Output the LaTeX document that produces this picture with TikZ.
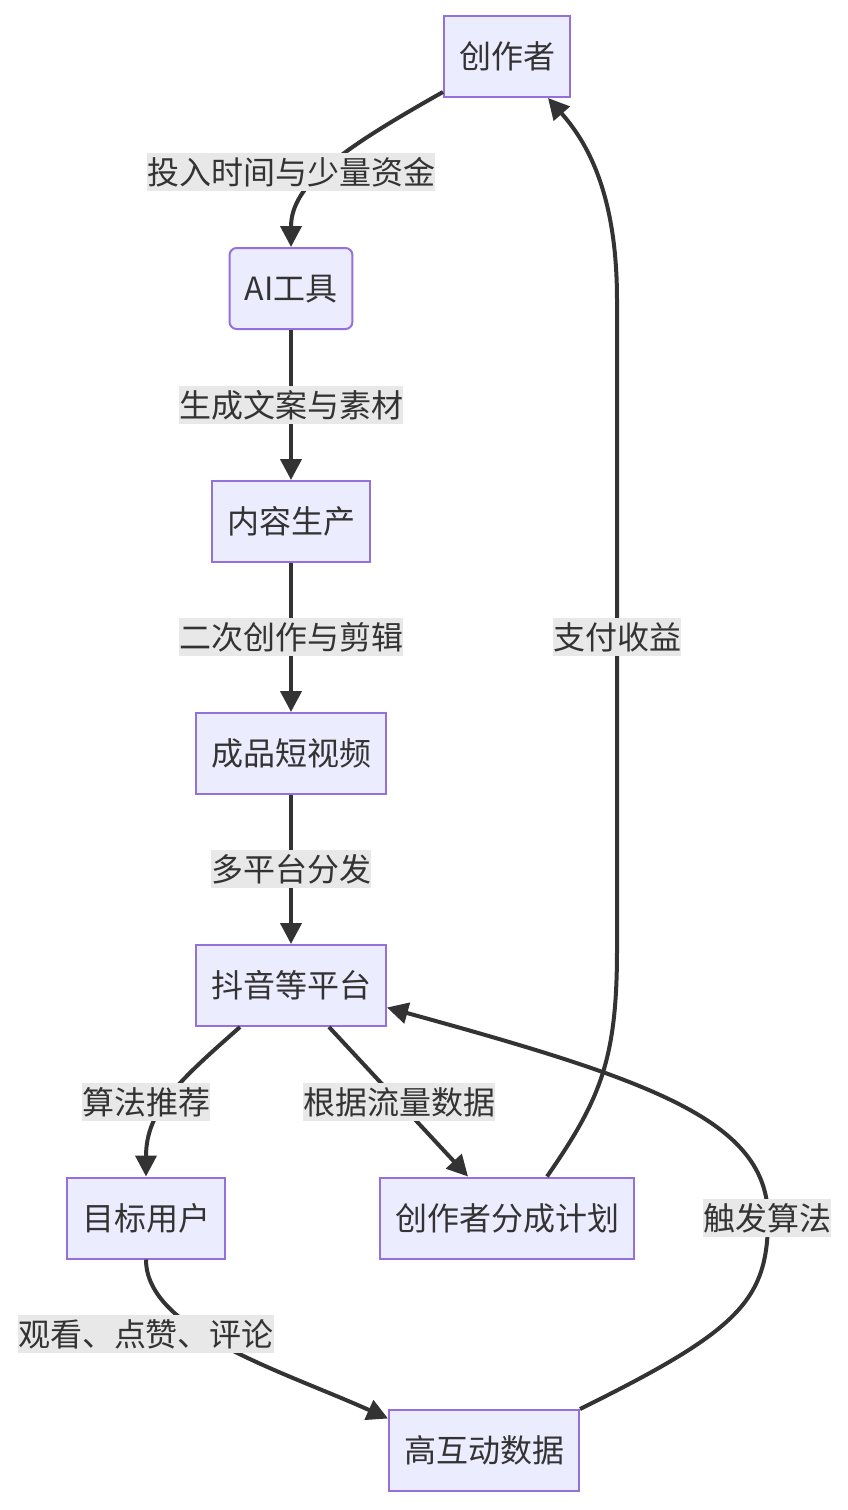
\documentclass[tikz,border=0pt]{standalone}
\usepackage{fontspec}
\newfontfamily\cjk{Noto Sans CJK SC}
\usetikzlibrary{arrows.meta,calc}
\definecolor{nodefill}{HTML}{ECECFF}
\definecolor{nodeborder}{HTML}{9370DB}
\definecolor{textc}{HTML}{333333}
\definecolor{edgec}{HTML}{333333}
\definecolor{lblbg}{HTML}{E8E8E8}
\begin{document}
\begin{tikzpicture}[x=1pt,y=-1pt,
  box/.style={draw=nodeborder, fill=nodefill, line width=2pt, minimum height=81pt,
    inner xsep=15pt, inner ysep=0pt, text=textc, font=\cjk\fontsize{32}{38}\selectfont,
    text height=28pt, text depth=4pt},
  lbl/.style={fill=lblbg, inner xsep=0pt, inner ysep=3pt, text=textc,
    font=\cjk\fontsize{32}{38}\selectfont, text height=28pt, text depth=4pt},
  arr/.style={draw=edgec, line width=4pt, -{Triangle[length=21pt,width=21pt]}}]
\useasboundingbox (0,0) rectangle (848,1510);
\fill[white] (0,0) rectangle (848,1510);

\node[box] (c) at (507,56.5) {创作者};
\node[box, rounded corners=7pt] (ai) at (291,288.5) {AI工具};
\node[box] (nr) at (291,521.5) {内容生产};
\node[box] (cp) at (291,753.5) {成品短视频};
\node[box] (dy) at (291,985.5) {抖音等平台};
\node[box] (mb) at (146,1218) {目标用户};
\node[box] (fc) at (507,1218) {创作者分成计划};
\node[box] (hd) at (484,1450.5) {高互动数据};

\draw[arr] (c.209) .. controls (340,150) and (291,185) .. (ai.north);
\draw[arr] (ai) -- (nr);
\draw[arr] (nr) -- (cp);
\draw[arr] (cp) -- (dy);
\draw[arr] ($(dy.south)+(-51,0)$) .. controls (180,1080) and (146,1110) .. (mb.north);
\draw[arr] ($(dy.south)+(38,0)$) -- ($(fc.north)+(-39,0)$);
\draw[arr] (mb.south) .. controls (146,1330) and (280,1370) .. ($(hd.west)+(0,-32)$);
\draw[arr] (hd.north east) .. controls (740,1330) and (768,1300) .. (768,1218)
   .. controls (768,1120) and (650,1080) .. ($(dy.east)+(0,22)$);
\draw[arr] ($(fc.north)+(40,0)$) .. controls (600,1100) and (617,1060) .. (617,950)
   -- (617,300) .. controls (617,190) and (585,140) .. ($(c.south)+(41,0)$);

\node[lbl] (l1) at (291,172) {投入时间与少量资金};
\node[lbl] (l2) at (291,405) {生成文案与素材};
\node[lbl] (l3) at (291,637) {二次创作与剪辑};
\node[lbl] (l4) at (291,869) {多平台分发};
\node[lbl] (l5) at (146,1102) {算法推荐};
\node[lbl] (l6) at (399,1102) {根据流量数据};
\node[lbl] (l7) at (617,637) {支付收益};
\node[lbl] (l8) at (767,1218) {触发算法};
\node[lbl] (l9) at (146,1334) {观看、点赞、评论};
\end{tikzpicture}
\end{document}
